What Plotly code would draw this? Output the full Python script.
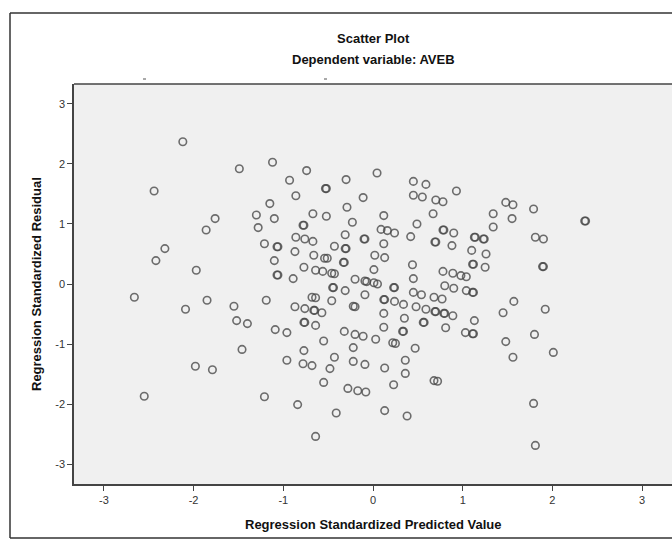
import plotly.graph_objects as go

# Regression standardized predicted value (x) and residual (y)
pred = [-2.12, -1.49, -1.12, -2.44, -0.93, -0.86, -1.15, -1.76, -1.30, -1.10,
        -1.86, -1.28, -0.74, -0.53, -0.30, 0.045, -0.11, 0.45, 0.59, 0.45,
        0.55, 0.70, 0.78, 0.93, -0.67, -0.52, -0.29, -0.23, 0.12, 0.67,
        0.49, -0.78, 1.48, 1.56, 1.34, 1.55, 1.79, 2.36, 1.34, -0.86,
        -1.21, -1.07, -0.87, -2.32, -2.42, -1.97, -1.10, -1.07, -0.89, -2.66,
        -2.09, -1.85, -1.55, -1.19, -0.87, -1.52, -1.40, -1.09, -0.96, -1.46,
        -0.96, -1.98, -1.79, -2.55, -1.21, -0.84, -0.76, -0.67, -0.31, -0.10,
        0.09, 0.16, 0.24, 0.42, 0.78, 0.90, 0.69, 0.88, 1.13, 1.23,
        -0.66, -0.54, -0.51, -0.43, -0.31, -0.33, 0.02, 0.12, 0.13, 1.10,
        1.26, -0.77, -0.64, -0.56, -0.46, -0.43, 0.01, 0.44, 1.11, 1.25,
        0.78, 0.89, 0.98, 1.04, -0.20, -0.09, -0.07, 0.01, 0.05, 0.45,
        -0.45, -0.31, 0.23, -0.09, 0.12, 0.24, 0.34, 0.45, 0.54, 0.68,
        0.77, 0.80, 0.90, 1.04, 1.11, -0.68, -0.64, -0.46, -0.76, -0.66,
        -0.57, -0.22, -0.20, 0.48, 0.59, 0.69, 0.79, 0.89, 0.12, 0.35,
        1.13, -0.77, -0.64, 0.12, 0.56, 0.81, 0.33, -0.32, -0.20, -0.11,
        0.03, 1.03, 1.11, -0.55, 0.22, 0.25, -0.22, 0.47, -0.77, -0.43,
        -0.22, -0.09, 0.36, -0.78, -0.68, -0.48, 0.13, 0.36, -0.55, -0.28,
        -0.17, -0.08, 0.23, 0.68, 0.72, -0.41, 0.13, 0.38, -0.64, 1.81,
        1.90, 1.89, 1.57, 1.45, 1.92, 1.80, 1.48, 1.56, 2.01, 1.79,
        1.81,
        # overlapping cases (drawn darker in the original)
        -0.52, -0.77, 2.37, -1.06, -1.06, -0.09, 0.79, 0.70, 1.14, 1.24,
        -0.30, -0.32, 1.12, -0.44, 0.24, 0.13, 1.12, -0.65, 0.70, 0.80,
        -0.76, 0.57, 0.34, 1.12, 1.90]

resid = [2.37, 1.92, 2.03, 1.55, 1.73, 1.47, 1.34, 1.09, 1.15, 1.09,
         0.90, 0.94, 1.89, 1.59, 1.74, 1.85, 1.44, 1.71, 1.66, 1.48,
         1.45, 1.40, 1.37, 1.55, 1.17, 1.13, 1.28, 1.03, 1.14, 1.17,
         1.00, 0.98, 1.36, 1.32, 1.17, 1.09, 1.25, 1.05, 0.95, 0.78,
         0.67, 0.62, 0.54, 0.59, 0.39, 0.23, 0.39, 0.15, 0.09, -0.22,
         -0.42, -0.27, -0.37, -0.27, -0.38, -0.61, -0.66, -0.76, -0.81, -1.09,
         -1.27, -1.37, -1.43, -1.87, -1.88, -2.01, 0.75, 0.71, 0.82, 0.75,
         0.91, 0.89, 0.85, 0.79, 0.90, 0.85, 0.70, 0.64, 0.78, 0.75,
         0.48, 0.43, 0.43, 0.63, 0.59, 0.36, 0.48, 0.67, 0.44, 0.56,
         0.50, 0.28, 0.23, 0.21, 0.18, 0.17, 0.24, 0.32, 0.33, 0.28,
         0.21, 0.18, 0.14, 0.12, 0.08, 0.05, 0.04, 0.02, 0.00, 0.09,
         -0.06, -0.11, -0.06, -0.18, -0.26, -0.29, -0.34, -0.14, -0.18, -0.22,
         -0.25, -0.03, -0.07, -0.11, -0.14, -0.22, -0.23, -0.28, -0.41, -0.44,
         -0.48, -0.37, -0.38, -0.38, -0.42, -0.46, -0.49, -0.53, -0.49, -0.57,
         -0.61, -0.64, -0.69, -0.72, -0.64, -0.73, -0.79, -0.79, -0.84, -0.87,
         -0.92, -0.81, -0.83, -0.95, -0.98, -0.99, -1.06, -1.07, -1.11, -1.22,
         -1.29, -1.34, -1.27, -1.33, -1.36, -1.41, -1.40, -1.49, -1.64, -1.74,
         -1.78, -1.80, -1.68, -1.61, -1.62, -2.15, -2.11, -2.20, -2.54, 0.78,
         0.75, 0.29, -0.29, -0.48, -0.42, -0.84, -0.96, -1.22, -1.14, -1.99,
         -2.69,
         1.59, 0.98, 1.05, 0.62, 0.15, 0.75, 0.90, 0.70, 0.78, 0.75,
         0.59, 0.36, 0.33, -0.06, -0.06, -0.26, -0.14, -0.44, -0.46, -0.49,
         -0.64, -0.64, -0.79, -0.83, 0.29]

tick_vals = [-3, -2, -1, 0, 1, 2, 3]
tick_text = ["-3", "-2", "-1", "0", "1", "2", "3"]

title_lines = ["Scatter Plot", "Dependent variable: AVEB"]
x_title = "Regression Standardized Predicted Value"
y_title = "Regression Standardized Residual"

FONT = "Arial, 'Liberation Sans', sans-serif"
AXC = "#444444"

W, H = 672, 544
L, T, R = 74, 84, 0
B = H - 484
pw, ph = W - L - R, H - T - B

def px_x(p):
    return (p - L) / pw

def px_y(p):
    return (H - B - p) / ph

fig = go.Figure()
fig.add_trace(go.Scatter(
    x=pred, y=resid, mode="markers",
    marker=dict(symbol="circle-open", size=7.5, color="rgba(70,70,70,0.78)",
                line=dict(width=1.6, color="rgba(70,70,70,0.78)")),
    hoverinfo="x+y", showlegend=False))

axis_common = dict(
    range=[-3.333, 3.333], tickvals=tick_vals, ticktext=tick_text,
    showgrid=False, zeroline=False, showline=True, linecolor=AXC, linewidth=1.5,
    ticks="outside", ticklen=5, tickwidth=1.2, tickcolor=AXC,
    tickfont=dict(family=FONT, size=11, color="#333333"),
)

ann_common = dict(xref="paper", yref="paper", showarrow=False,
                  xanchor="center", yanchor="middle")

frame_line = dict(color="#333333", width=1.5)
fx0, fy0, fy1 = px_x(10), px_y(538), px_y(13)

fig.update_layout(
    width=W, height=H,
    margin=dict(l=L, r=R, t=T, b=B, pad=0),
    paper_bgcolor="white", plot_bgcolor="#f0f0f0",
    xaxis=dict(**axis_common, mirror=False),
    yaxis=dict(**axis_common, mirror=False),
    shapes=[
        dict(type="line", xref="paper", yref="paper", x0=0, x1=1, y0=1, y1=1,
             line=dict(color=AXC, width=1.5)),
        dict(type="line", xref="paper", yref="paper", x0=fx0, x1=1.0,
             y0=fy1, y1=fy1, line=frame_line),
        dict(type="line", xref="paper", yref="paper", x0=fx0, x1=fx0,
             y0=fy0, y1=fy1, line=frame_line),
        dict(type="line", xref="paper", yref="paper", x0=fx0, x1=1.0,
             y0=fy0, y1=fy0, line=frame_line),
        dict(type="line", xref="paper", yref="paper", x0=px_x(143), x1=px_x(146),
             y0=px_y(79), y1=px_y(79), line=dict(color="#555555", width=1)),
        dict(type="line", xref="paper", yref="paper", x0=px_x(324), x1=px_x(327),
             y0=px_y(79), y1=px_y(79), line=dict(color="#555555", width=1)),
    ],
    annotations=[
        dict(text="<b>" + title_lines[0] + "</b>", x=px_x(373), y=px_y(39),
             font=dict(family=FONT, size=13, color="#111111"), **ann_common),
        dict(text="<b>" + title_lines[1] + "</b>", x=px_x(373), y=px_y(59),
             font=dict(family=FONT, size=13, color="#111111"), **ann_common),
        dict(text="<b>" + x_title + "</b>", x=px_x(373), y=px_y(524),
             font=dict(family=FONT, size=13, color="#111111"), **ann_common),
        dict(text="<b>" + y_title + "</b>", x=px_x(36), y=px_y(284),
             textangle=-90,
             font=dict(family=FONT, size=13, color="#111111"), **ann_common),
    ],
)

# remove the page's default body margin and scrollbars so the figure sits at (0,0)
page_fix = ("document.body.style.margin='0';"
            "document.body.style.overflow='hidden';"
            "document.documentElement.style.overflow='hidden';")

fig.write_html("out.html", post_script=page_fix,
               config={"displayModeBar": False})
